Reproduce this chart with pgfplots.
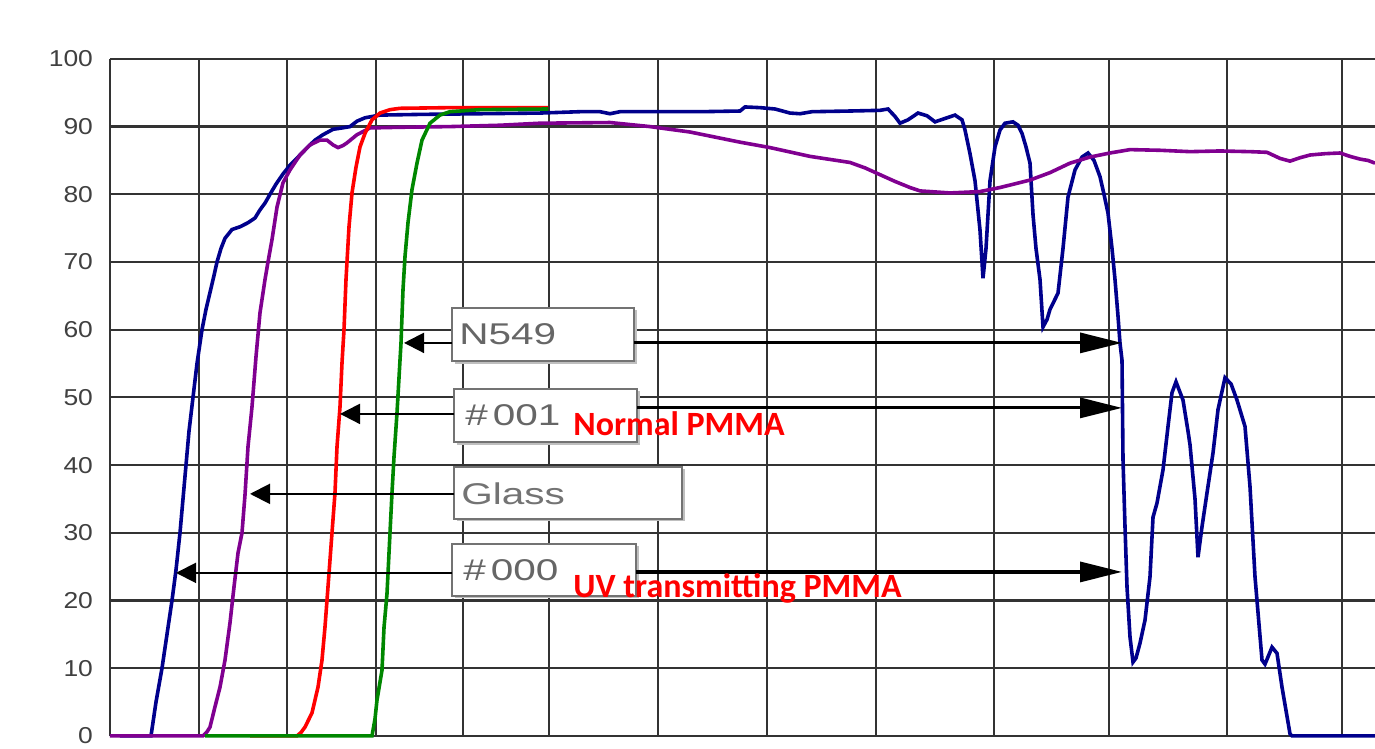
\documentclass[border=0pt]{standalone}
\usepackage{fontspec}
\usepackage{pgfplots}
\pgfplotsset{compat=1.18}
\usetikzlibrary{arrows.meta}
\newfontfamily\tickfont[FakeStretch=1.15]{Liberation Sans}
\newfontfamily\boxfont[FakeStretch=1.35]{Liberation Sans}
\newfontfamily\redfont{Carlito}
\definecolor{cblue}{RGB}{0,0,140}
\definecolor{cpurple}{RGB}{128,0,144}
\definecolor{cred}{RGB}{255,0,0}
\definecolor{cgreen}{RGB}{0,135,0}
\begin{document}
\begin{tikzpicture}
\begin{axis}[
  x=0.5pt, y=3.385pt,
  xmin=110, xmax=1375, ymin=0, ymax=100,
  axis line style={draw=none},
  xtick={110,199,287,376,463,549,658,767,876,994,1109,1227,1342},
  xticklabels={},
  xticklabel style={text opacity=0},
  ytick={0,10,...,100},
  grid=major,
  major grid style={black!80, line width=1.1pt},
  major tick length=0pt,
  yticklabel style={font=\tickfont\fontsize{11.5}{12}\selectfont, text=black!75, xshift=-5pt},
  /pgf/number format/assume math mode=true,
  clip=false,
]
\addplot[cblue, line width=1.8pt] coordinates {
(120,0)(151,0)(156,5)(162,10)(167,15)(172,20)(176,24.5)(180,30)(183,35)(186,40)(189,45)(193,50)(197,55)(202,60)(206,63)(210,65.5)(214,68)(217,70)(221,72)(225,73.5)(232,74.8)(240,75.2)(248,75.8)(255,76.5)(260,77.7)(265,78.7)(270,80)(276,81.5)(283,83)(290,84.3)(300,85.8)(308,87)(315,88)(323,88.8)(333,89.6)(342,89.8)(350,90)(357,90.8)(365,91.3)(380,91.7)(420,91.8)(480,91.9)(540,92)(580,92.2)(600,92.2)(610,91.9)(620,92.2)(700,92.2)(740,92.3)(745,92.9)(760,92.8)(775,92.6)(790,92.0)(800,91.9)(812,92.2)(850,92.3)(880,92.4)(888,92.6)(895,91.5)(900,90.5)(908,91.0)(918,92.0)(927,91.6)(935,90.7)(945,91.2)(955,91.7)(962,91.0)(965,89.5)(970,86)(975,82)(980,74.7)(983,67.6)(986,72)(990,82)(995,87)(1000,89.5)(1005,90.5)(1013,90.7)(1018,90.2)(1022,89)(1026,87)(1030,84.6)(1033,77)(1036,72)(1040,67.4)(1043,60.4)(1047,61.5)(1050,63)(1055,64.5)(1058,65.4)(1063,72)(1068,79.6)(1075,83.6)(1082,85.5)(1088,86.1)(1094,85)(1100,82.6)(1104,80)(1108,77.2)(1112,72)(1115,67.4)(1118,62)(1120,58)(1122,55.5)(1123,40.8)(1125,30.9)(1127,22)(1130,14.6)(1133,10.9)(1136,11.5)(1140,13.7)(1145,17.1)(1150,23.5)(1153,32.3)(1157,34.4)(1163,39.3)(1168,45.7)(1172,50.7)(1176,52.3)(1183,49.6)(1188,45)(1190,43)(1195,35)(1198,26.4)(1202,30.9)(1207,35.9)(1213,41.8)(1218,48.2)(1225,52.9)(1231,52.0)(1237,49.6)(1245,45.7)(1250,36.8)(1255,23.5)(1262,11.2)(1265,10.6)(1272,13.1)(1277,12.2)(1282,7.2)(1290,0.3)(1292,0)(1375,0)
};
\addplot[cpurple, line width=1.8pt] coordinates {
(110,0)(203,0)(207,0.6)(210,1.3)(215,4.3)(220,7.2)(225,11.2)(230,16.7)(234,22)(238,27)(242,30)(245,35.6)(248,42.7)(252,48.6)(256,56)(260,62.5)(265,67.4)(268,70)(272,73.3)(277,78.1)(283,81.7)(290,83.6)(300,85.8)(310,87.3)(320,88)(327,88)(333,87.3)(338,86.9)(343,87.2)(347,87.6)(357,88.8)(370,89.8)(400,89.9)(450,90)(500,90.2)(540,90.5)(610,90.6)(650,90)(690,89.2)(740,87.7)(770,86.9)(810,85.6)(850,84.7)(865,83.9)(880,82.9)(895,81.9)(910,81)(920,80.5)(950,80.2)(980,80.4)(1000,81)(1030,82.1)(1050,83.2)(1070,84.6)(1090,85.5)(1110,86.1)(1130,86.6)(1160,86.5)(1190,86.3)(1220,86.4)(1250,86.3)(1267,86.2)(1280,85.3)(1290,84.9)(1300,85.4)(1310,85.8)(1325,86.0)(1340,86.1)(1350,85.6)(1360,85.2)(1368,85.0)(1375,84.6)
};
\addplot[cred, line width=1.8pt] coordinates {
(250,0)(297,0)(301,0.5)(305,1.3)(312,3.4)(318,7.2)(322,11.2)(325,16.1)(328,22)(330,26)(332,30)(335,35.9)(337,42.7)(340,48.6)(342,55.1)(344,60)(346,67.4)(347,70)(349,75.2)(352,80.2)(356,84)(360,87)(365,89)(372,91)(380,92)(390,92.5)(400,92.7)(450,92.8)(548,92.8)
};
\addplot[cgreen, line width=1.8pt] coordinates {
(205,0)(372,0)(375,2.5)(377,5.3)(382,9.7)(384,16)(387,21)(388,24)(390,30)(392,35.9)(394,41.2)(397,47.7)(400,55.5)(401,58)(402,62)(403,65.9)(405,70.8)(408,75.8)(412,80.7)(417,84.6)(422,88)(430,90.5)(440,91.7)(450,92.2)(480,92.5)(548,92.6)
};
% label boxes
\fill[black!25] (axis cs:455,62.9) rectangle (axis cs:637,55.0);
\draw[black!55, line width=1pt, fill=white] (axis cs:452,63.2) rectangle (axis cs:634,55.4);
\node[anchor=west, inner sep=0pt, text=black!60, font=\boxfont\fontsize{15}{15}\selectfont] at (axis cs:459,59.4) {N549};
\fill[black!25] (axis cs:457,51.0) rectangle (axis cs:640,43.0);
\draw[black!55, line width=1pt, fill=white] (axis cs:454,51.3) rectangle (axis cs:637,43.4);
\node[anchor=west, inner sep=0pt, text=black!60, font=\boxfont\fontsize{15}{15}\selectfont] at (axis cs:465,47.4) {\#\,001};
\fill[black!25] (axis cs:457,39.4) rectangle (axis cs:685,31.7);
\draw[black!55, line width=1pt, fill=white] (axis cs:454,39.7) rectangle (axis cs:682,32.1);
\node[anchor=west, inner sep=0pt, text=black!55, font=\boxfont\fontsize{15}{15}\selectfont] at (axis cs:461,35.8) {Glass};
\fill[black!25] (axis cs:455,28.1) rectangle (axis cs:639,20.3);
\draw[black!55, line width=1pt, fill=white] (axis cs:452,28.4) rectangle (axis cs:636,20.7);
\node[anchor=west, inner sep=0pt, text=black!60, font=\boxfont\fontsize{15}{15}\selectfont] at (axis cs:463,24.5) {\#\,000};
% arrows
\draw[line width=1pt, -{Triangle[length=10pt,width=10pt]}] (axis cs:452,58.05) -- (axis cs:404,58.05);
\draw[line width=1.6pt, -{Triangle[length=21pt,width=10pt]}] (axis cs:634,58.05) -- (axis cs:1122,58.05);
\draw[line width=1pt, -{Triangle[length=10pt,width=10pt]}] (axis cs:454,47.56) -- (axis cs:340,47.56);
\draw[line width=1.6pt, -{Triangle[length=21pt,width=10pt]}] (axis cs:637,48.45) -- (axis cs:1122,48.45);
\draw[line width=1pt, -{Triangle[length=10pt,width=10pt]}] (axis cs:454,35.75) -- (axis cs:250,35.75);
\draw[line width=1pt, -{Triangle[length=10pt,width=10pt]}] (axis cs:452,24.08) -- (axis cs:176,24.08);
\draw[line width=1.6pt, -{Triangle[length=21pt,width=10pt]}] (axis cs:636,24.22) -- (axis cs:1122,24.22);
% red annotations
\node[anchor=base west, inner sep=0pt, text=cred, font=\redfont\bfseries\fontsize{17}{18}\selectfont] at (axis cs:573,44.3) {Normal PMMA};
\node[anchor=base west, inner sep=0pt, text=cred, font=\redfont\bfseries\fontsize{17}{18}\selectfont] at (axis cs:573,20.5) {UV transmitting PMMA};
\coordinate (bl) at (axis cs:0,-1.92);
\coordinate (tr) at (axis cs:1375,108.7);
\end{axis}
\pgfresetboundingbox
\path[use as bounding box] (bl) rectangle (tr);
\end{tikzpicture}
\end{document}
